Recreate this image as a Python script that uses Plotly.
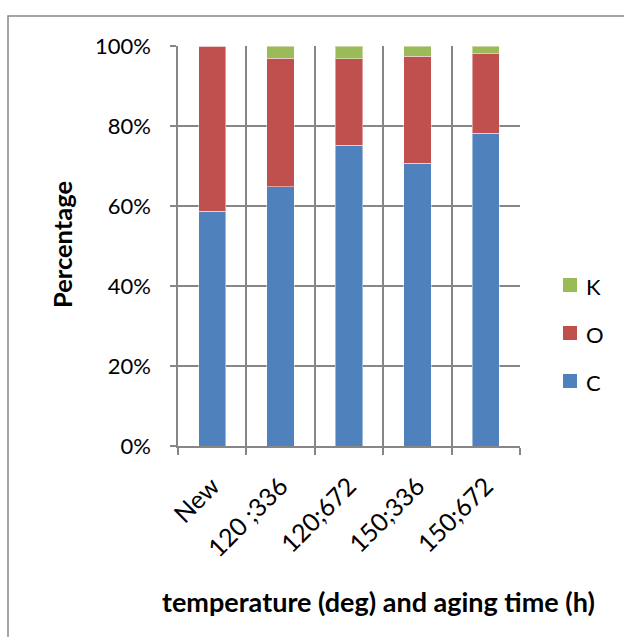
import plotly.graph_objects as go

categories = ["New", "120 ;336", "120;672", "150;336", "150;672"]
c_vals = [0.587, 0.648, 0.752, 0.707, 0.782]
o_vals = [0.413, 0.321, 0.216, 0.268, 0.199]
k_vals = [0.000, 0.031, 0.032, 0.025, 0.019]

series = [("C", c_vals, "#4F81BD"), ("O", o_vals, "#C0504D"), ("K", k_vals, "#9BBB59")]
legend_order = ["K", "O", "C"]

FONT = "Lato"
GRID = "#868686"

# pixel geometry of the plot area (for paper-coordinate placement)
L, R, T, B = 178, 520, 46, 446
PW, PH = R - L, B - T


def px_x(p):
    return (p - L) / PW


def px_y(p):
    return (B - p) / PH


fig = go.Figure()
for name, vals, col in series:
    fig.add_trace(go.Bar(
        x=categories, y=vals, name=name, showlegend=False,
        marker=dict(color=col, line=dict(color="rgba(255,255,255,0.45)", width=1)),
    ))

colors = {n: c for n, _, c in series}
shapes = [
    dict(type="rect", xref="paper", yref="paper",
         x0=px_x(8), x1=px_x(640), y0=px_y(650), y1=px_y(16),
         line=dict(color=GRID, width=1.5), layer="below"),
]
annotations = [
    dict(text="<b>temperature (deg) and aging time (h)</b>", xref="paper", yref="paper",
         x=px_x(378), y=px_y(601), xanchor="center", yanchor="middle",
         showarrow=False, font=dict(size=27, family=FONT)),
    dict(text="<b>Percentage</b>", xref="paper", yref="paper",
         x=px_x(62), y=px_y(245), xanchor="center", yanchor="middle",
         textangle=-90, showarrow=False, font=dict(size=25.5, family=FONT)),
]
# legend (K, O, C top to bottom)
for i, name in enumerate(legend_order):
    cy = 285 + i * 48
    shapes.append(dict(type="rect", xref="paper", yref="paper",
                       x0=px_x(563), x1=px_x(577), y0=px_y(cy + 7), y1=px_y(cy - 7),
                       fillcolor=colors[name], line=dict(width=0)))
    annotations.append(dict(text=name, xref="paper", yref="paper",
                            x=px_x(584), y=px_y(cy + 1), xanchor="left", yanchor="middle",
                            showarrow=False, font=dict(size=22, family=FONT)))

fig.update_layout(
    width=624, height=637,
    margin=dict(l=L, r=624 - R, t=T, b=637 - B),
    paper_bgcolor="white", plot_bgcolor="white",
    barmode="stack", bargap=0.6,
    font=dict(family=FONT, size=22, color="#000000"),
    showlegend=False,
    xaxis=dict(
        type="category", tickson="boundaries", showgrid=True, gridcolor=GRID, gridwidth=1.5,
        showline=True, linecolor=GRID, linewidth=1.5,
        ticks="outside", ticklen=7, tickcolor=GRID, tickwidth=1.5,
        tickangle=-45, tickfont=dict(size=25, family=FONT), ticklabelstandoff=14,
        range=[-0.5, 4.5],
    ),
    yaxis=dict(
        range=[0, 1], dtick=0.2, tickformat=".0%", showgrid=True, gridcolor=GRID, gridwidth=1.5,
        showline=True, linecolor=GRID, linewidth=1.5,
        ticks="outside", ticklen=6, tickcolor=GRID, tickwidth=1.5,
        tickfont=dict(size=22, family=FONT), ticklabelstandoff=15,
        zeroline=False,
    ),
    annotations=annotations,
    shapes=shapes,
)

fig.write_html("out.html", config={"displayModeBar": False},
               post_script="document.body.style.margin='0';")
